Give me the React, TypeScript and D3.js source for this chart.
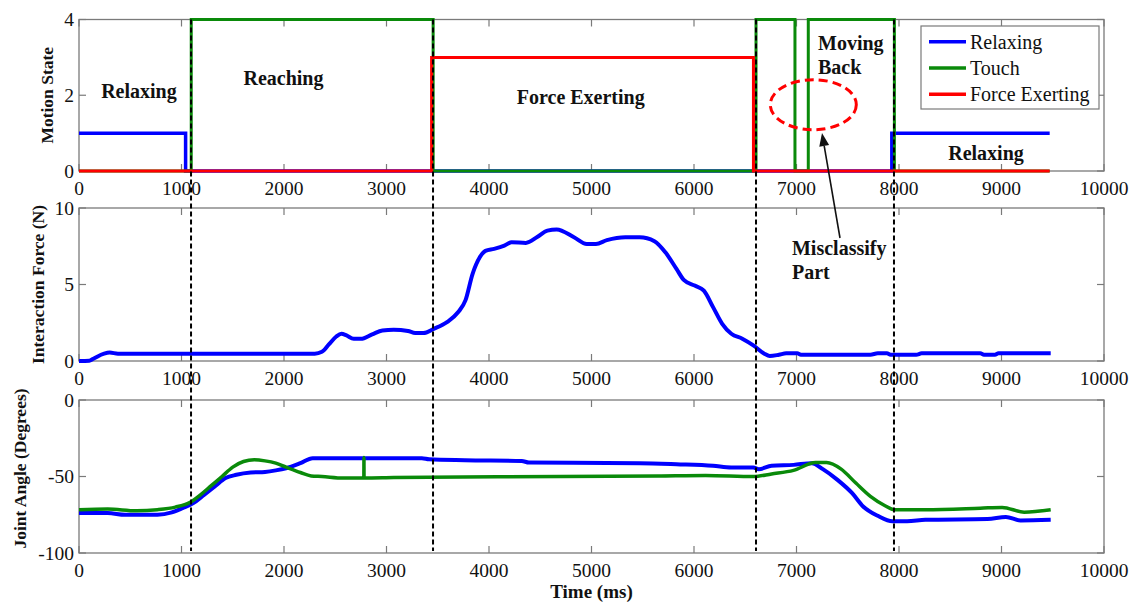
import React from "react";
import * as d3 from "d3";

// ---------- data ----------
const stateRelaxing: [number, number][] = [
  [0, 1], [1040, 1], [1040, 0], [7930, 0], [7930, 1], [9470, 1],
];
const stateTouch: [number, number][] = [
  [0, 0], [1095, 0], [1095, 4], [3455, 4], [3455, 0], [6605, 0], [6605, 4],
  [6985, 4], [6985, 0], [7115, 0], [7115, 4], [7955, 4], [7955, 0], [9470, 0],
];
const stateForce: [number, number][] = [
  [0, 0], [3440, 0], [3440, 3], [6580, 3], [6580, 0], [9470, 0],
];

const forceData: [number, number][] = [
  [0, 0], [100, 0.02], [140, 0.15], [245, 0.48], [300, 0.55], [380, 0.48],
  [2300, 0.48], [2370, 0.6], [2440, 1.1], [2510, 1.6], [2560, 1.78], [2610, 1.67],
  [2680, 1.45], [2750, 1.45], [2860, 1.74], [2960, 2.0], [3070, 2.04], [3210, 1.96],
  [3280, 1.83], [3360, 1.83], [3460, 2.1], [3590, 2.54], [3700, 3.2], [3770, 3.96],
  [3840, 5.7], [3910, 6.78], [3965, 7.2], [4050, 7.33], [4150, 7.54], [4220, 7.76],
  [4360, 7.72], [4470, 8.1], [4570, 8.52], [4660, 8.6], [4829, 8.09], [4954, 7.65],
  [5043, 7.65], [5150, 7.9], [5330, 8.09], [5470, 8.09], [5614, 7.83], [5721, 7.1],
  [5829, 6.02], [5900, 5.3], [6007, 4.93], [6096, 4.6], [6186, 3.52], [6275, 2.43],
  [6364, 1.78], [6471, 1.46], [6579, 1.02], [6686, 0.48], [6739, 0.33], [6829, 0.41],
  [6900, 0.5], [7007, 0.5], [7043, 0.41], [7721, 0.41], [7793, 0.5], [7882, 0.5],
  [7918, 0.41], [8168, 0.41], [8221, 0.5], [8793, 0.5], [8829, 0.41], [8936, 0.41],
  [8971, 0.5], [9480, 0.5],
];

const angleBlue: [number, number][] = [
  [0, -73.9], [280, -73.9], [450, -75], [765, -75], [905, -73.5], [1010, -70.7],
  [1115, -67.4], [1220, -62], [1325, -56.5], [1430, -51], [1535, -48.9], [1675, -47.4],
  [1815, -47], [1920, -46], [2020, -44.6], [2160, -41.3], [2280, -38], [3345, -38],
  [3415, -38.7], [3765, -39.3], [4320, -39.8], [4390, -40.9], [5471, -41.3],
  [5829, -42], [6186, -43], [6364, -44.1], [6579, -44.1], [6632, -45.2], [6757, -43],
  [6971, -42.4], [7150, -41.3], [7257, -45.2], [7400, -52.2], [7543, -60.9],
  [7650, -69.6], [7793, -75.7], [7936, -79.3], [8079, -79.3], [8257, -78.3],
  [8864, -77.8], [9043, -76.5], [9186, -78.7], [9480, -78.3],
];
const angleGreen: [number, number][] = [
  [0, -71.7], [280, -71.3], [560, -72.4], [765, -71.7], [940, -70], [1080, -67],
  [1185, -62], [1290, -56], [1395, -50], [1500, -43.9], [1605, -40.2], [1710, -39.1],
  [1815, -39.8], [1920, -41.3], [2020, -43.9], [2160, -47.4], [2265, -49.6],
  [2370, -50], [2580, -51], [2779, -51], [2780, -37.6], [2781, -51], [3070, -50.7],
  [4700, -50], [5650, -49.6], [6114, -49.3], [6579, -50], [6757, -48.3], [6971, -46],
  [7186, -40.9], [7293, -40.9], [7436, -45.2], [7579, -54.3], [7721, -63],
  [7864, -69.1], [7954, -71.7], [8257, -71.7], [8793, -70.7], [9007, -70.2],
  [9221, -73.3], [9480, -71.7],
];

const phaseBoundaries = [1093, 3454, 6605, 7951];
const xTicks = [0, 1000, 2000, 3000, 4000, 5000, 6000, 7000, 8000, 9000, 10000];
const stateTicks = [0, 2, 4];
const forceTicks = [0, 5, 10];
const angleTicks = [-100, -50, 0];
const legendLabels = ["Relaxing", "Touch", "Force Exerting"];

const BLUE = "#0000ff";
const GREEN = "#0a8a0a";
const RED = "#ff0000";
const FONT = "'Liberation Serif', 'Times New Roman', serif";

export default function App() {
  const left = 79, right = 1104;
  const x = d3.scaleLinear().domain([0, 10000]).range([left, right]);
  const yState = d3.scaleLinear().domain([0, 4]).range([171, 19.5]);
  const yForce = d3.scaleLinear().domain([0, 10]).range([361, 208]);
  const yAngle = d3.scaleLinear().domain([-100, 0]).range([553, 400]);

  const mk = (ys: d3.ScaleLinear<number, number>, smooth = false) => {
    const l = d3.line<[number, number]>().x((d) => x(d[0])).y((d) => ys(d[1]));
    return smooth ? l.curve(d3.curveMonotoneX) : l;
  };

  const tickLen = 7;
  const axisColor = "#7a7a7a";

  const panel = (
    ys: d3.ScaleLinear<number, number>,
    yticks: number[],
    key: string
  ) => {
    const [b, t] = ys.range();
    return (
      <g key={key}>
        <rect x={left} y={t} width={right - left} height={b - t} fill="none" stroke={axisColor} strokeWidth={1.3} />
        {xTicks.map((v) => (
          <g key={v}>
            <line x1={x(v)} x2={x(v)} y1={b} y2={b - tickLen} stroke={axisColor} strokeWidth={1.2} />
            <line x1={x(v)} x2={x(v)} y1={t} y2={t + tickLen} stroke={axisColor} strokeWidth={1.2} />
            <text x={x(v)} y={b + 17} textAnchor="middle" dominantBaseline="central" fontSize={19.5} fontFamily={FONT} fill="#111">
              {v}
            </text>
          </g>
        ))}
        {yticks.map((v) => (
          <g key={"y" + v}>
            <line x1={left} x2={left + tickLen} y1={ys(v)} y2={ys(v)} stroke={axisColor} strokeWidth={1.2} />
            <line x1={right} x2={right - tickLen} y1={ys(v)} y2={ys(v)} stroke={axisColor} strokeWidth={1.2} />
            <text x={left - 5} y={ys(v)} textAnchor="end" dominantBaseline="central" fontSize={19.5} fontFamily={FONT} fill="#111">
              {v}
            </text>
          </g>
        ))}
      </g>
    );
  };

  const stateLine = mk(yState);
  const forceLine = mk(yForce, true);
  const angleLine = mk(yAngle, true);

  const boldText = (tx: number, ty: number, s: string, anchor = "middle", size = 20, k?: string) => (
    <text key={k ?? s + tx} x={tx} y={ty} textAnchor={anchor} dominantBaseline="central" fontSize={size} fontWeight="bold" fontFamily={FONT} fill="#111">
      {s}
    </text>
  );

  const arrowTip = { x: 822, y: 133 };
  const arrowStart = { x: 840, y: 238 };
  const ang = Math.atan2(arrowTip.y - arrowStart.y, arrowTip.x - arrowStart.x);
  const ah = 13, aw = 5;
  const bx = arrowTip.x - ah * Math.cos(ang), by = arrowTip.y - ah * Math.sin(ang);
  const head = [
    [arrowTip.x, arrowTip.y],
    [bx + aw * Math.sin(ang), by - aw * Math.cos(ang)],
    [bx - aw * Math.sin(ang), by + aw * Math.cos(ang)],
  ];

  return (
    <svg width={1137} height={603} style={{ position: "absolute", left: 0, top: 0, background: "#fff" }}>
      <rect width={1137} height={603} fill="#fff" />
      {panel(yState, stateTicks, "p1")}
      {panel(yForce, forceTicks, "p2")}
      {panel(yAngle, angleTicks, "p3")}

      {/* top panel lines */}
      <path d={stateLine(stateRelaxing)!} fill="none" stroke={BLUE} strokeWidth={3.5} />
      <path d={stateLine(stateTouch)!} fill="none" stroke={GREEN} strokeWidth={3} />
      <path d={stateLine(stateForce)!} fill="none" stroke={RED} strokeWidth={3} />

      {/* middle */}
      <path d={forceLine(forceData)!} fill="none" stroke={BLUE} strokeWidth={4} strokeLinejoin="round" />

      {/* bottom */}
      <path d={angleLine(angleBlue)!} fill="none" stroke={BLUE} strokeWidth={4} strokeLinejoin="round" />
      <path d={angleLine(angleGreen)!} fill="none" stroke={GREEN} strokeWidth={3.5} strokeLinejoin="round" />

      {/* phase dashed lines */}
      {phaseBoundaries.map((v) => (
        <line key={v} x1={x(v)} x2={x(v)} y1={19.5} y2={551} stroke="#000" strokeWidth={2} strokeDasharray="5,3" />
      ))}

      {/* axis labels */}
      <text transform={`translate(47,${(yState(0) + yState(4)) / 2}) rotate(-90)`} textAnchor="middle" dominantBaseline="central" fontSize={17.5} fontWeight="bold" fontFamily={FONT} fill="#111">Motion State</text>
      <text transform={`translate(38,${(yForce(0) + yForce(10)) / 2}) rotate(-90)`} textAnchor="middle" dominantBaseline="central" fontSize={17.5} fontWeight="bold" fontFamily={FONT} fill="#111">Interaction Force (N)</text>
      <text transform={`translate(20,${(yAngle(-100) + yAngle(0)) / 2 - 8}) rotate(-90)`} textAnchor="middle" dominantBaseline="central" fontSize={17.5} fontWeight="bold" fontFamily={FONT} fill="#111">Joint Angle (Degrees)</text>
      <text x={(left + right) / 2} y={591} textAnchor="middle" dominantBaseline="central" fontSize={19} fontWeight="bold" fontFamily={FONT} fill="#111">Time (ms)</text>

      {/* annotations */}
      {boldText(x(585), yState(2.11), "Relaxing")}
      {boldText(x(1995), yState(2.45), "Reaching")}
      {boldText(x(4895), yState(1.96), "Force Exerting")}
      {boldText(x(7210), yState(3.38), "Moving", "start")}
      {boldText(x(7210), yState(2.74), "Back", "start")}
      {boldText(x(8849), yState(0.47), "Relaxing", "middle", 20, "relax2")}
      {boldText(x(6956), yForce(7.39), "Misclassify", "start")}
      {boldText(x(6956), yForce(5.82), "Part", "start")}

      <ellipse cx={x(7164)} cy={yState(1.75)} rx={43} ry={25} fill="none" stroke={RED} strokeWidth={3} strokeDasharray="9,5" />
      <line x1={arrowStart.x} y1={arrowStart.y} x2={bx} y2={by} stroke="#111" strokeWidth={1.6} />
      <polygon points={head.map((p) => p.join(",")).join(" ")} fill="#111" />

      {/* legend */}
      <rect x={921} y={26} width={178} height={83} fill="#fff" stroke={axisColor} strokeWidth={1.2} />
      {legendLabels.map((l, i) => {
        const col = [BLUE, GREEN, RED][i];
        const ly = 41.7 + i * 26.3;
        return (
          <g key={l}>
            <line x1={929} x2={966} y1={ly} y2={ly} stroke={col} strokeWidth={3.5} />
            <text x={970} y={ly} dominantBaseline="central" fontSize={20} fontFamily={FONT} fill="#111">{l}</text>
          </g>
        );
      })}
    </svg>
  );
}
